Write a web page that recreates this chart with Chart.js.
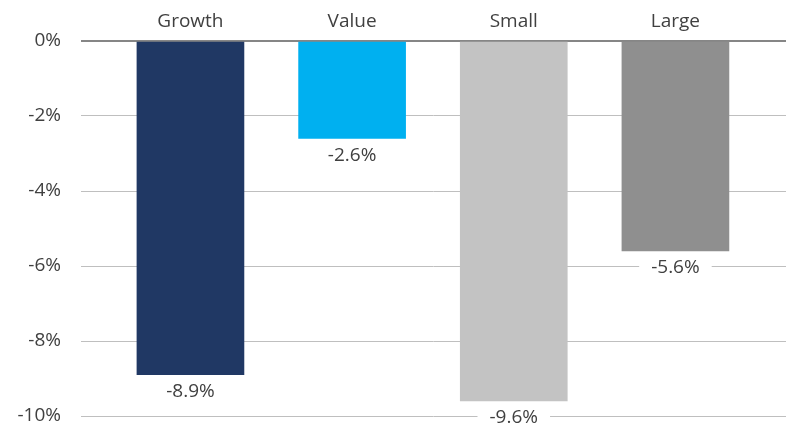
<!DOCTYPE html>
<html>
<head>
<meta charset="utf-8">
<script src="https://cdn.jsdelivr.net/npm/chart.js@4/dist/chart.umd.min.js"></script>
<style>
  html, body { margin: 0; padding: 0; background: #fff; }
  #wrap { width: 792px; height: 430px; }
</style>
</head>
<body>
<div id="wrap"><canvas id="returnsChart"></canvas></div>
<script>
const categories = ["Growth", "Value", "Small", "Large"];
const returns = [-8.9, -2.6, -9.6, -5.6];
const barColors = ["#203864", "#00b0f0", "#c3c3c3", "#8f8f8f"];
const yTicks = [0, -2, -4, -6, -8, -10];

const textColor = "#404040";
const fontFamily = "'Open Sans', sans-serif";

// value labels under each bar, on a white box so the grid line is hidden
const barLabels = {
  id: "barLabels",
  afterDatasetsDraw(chart) {
    const ctx = chart.ctx;
    const meta = chart.getDatasetMeta(0);
    ctx.save();
    ctx.font = "19px " + fontFamily;
    ctx.textAlign = "center";
    ctx.textBaseline = "middle";
    meta.data.forEach((bar, i) => {
      const text = returns[i].toFixed(1) + "%";
      const w = ctx.measureText(text).width;
      const y = bar.y + 17;
      ctx.fillStyle = "#fff";
      ctx.fillRect(bar.x - w / 2 - 12, y - 11, w + 24, 22);
      ctx.fillStyle = textColor;
      ctx.fillText(text, bar.x, y);
    });
    ctx.restore();
  }
};

new Chart(document.getElementById("returnsChart"), {
  type: "bar",
  data: {
    datasets: [
      {
        data: returns.map((v, i) => ({ x: i, y: v })),
        backgroundColor: barColors,
        borderWidth: 0,
        barThickness: 107
      }
    ]
  },
  options: {
    responsive: true,
    maintainAspectRatio: false,
    animation: false,
    layout: { padding: { top: 0, right: 6, bottom: 14, left: 0 } },
    plugins: {
      legend: { display: false },
      tooltip: { enabled: false }
    },
    scales: {
      x: {
        type: "linear",
        position: "top",
        offset: false,
        min: -0.677,
        max: 3.684,
        afterBuildTicks: scale => {
          scale.ticks = categories.map((c, i) => ({ value: i }));
        },
        afterFit: scale => {
          scale.height = 41;
        },
        grid: { display: false, drawTicks: false, offset: false },
        border: { display: false },
        ticks: {
          autoSkip: false,
          maxRotation: 0,
          padding: 8,
          color: textColor,
          font: { family: fontFamily, size: 19 },
          callback: v => categories[v]
        }
      },
      y: {
        min: -10,
        max: 0,
        afterBuildTicks: scale => {
          scale.ticks = yTicks.map(v => ({ value: v }));
        },
        afterFit: scale => {
          scale.width = 81;
          scale.paddingTop = 0;
          scale.paddingBottom = 0;
        },
        grid: {
          drawTicks: false,
          color: c => (c.tick.value === 0 ? "#868686" : "#bfbfbf"),
          lineWidth: c => (c.tick.value === 0 ? 2 : 1)
        },
        border: { display: false },
        ticks: {
          padding: 20,
          color: textColor,
          font: { family: fontFamily, size: 19 },
          callback: v => v + "%"
        }
      }
    }
  },
  plugins: [barLabels]
});
</script>
</body>
</html>
